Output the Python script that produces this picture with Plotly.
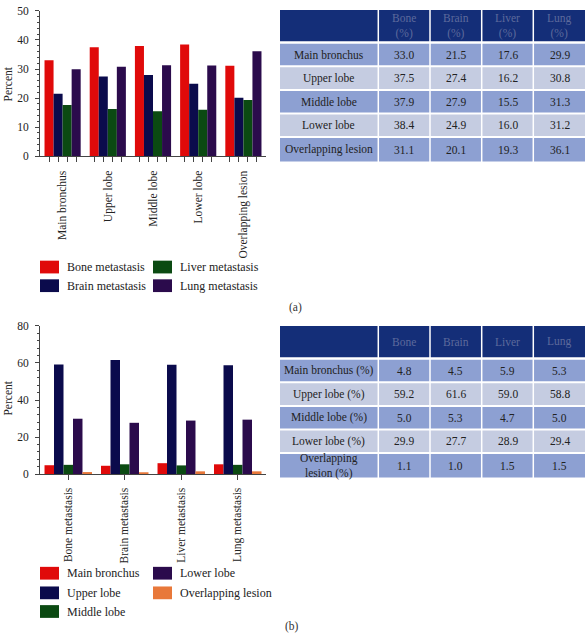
import plotly.graph_objects as go

# ---------------- data ----------------
locations = ["Main bronchus", "Upper lobe", "Middle lobe", "Lower lobe", "Overlapping lesion"]
met_types = ["Bone metastasis", "Brain metastasis", "Liver metastasis", "Lung metastasis"]
bone_pct = [33.0, 37.5, 37.9, 38.4, 31.1]
brain_pct = [21.5, 27.4, 27.9, 24.9, 20.1]
liver_pct = [17.6, 16.2, 15.5, 16.0, 19.3]
lung_pct = [29.9, 30.8, 31.3, 31.2, 36.1]

met_short = ["Bone", "Brain", "Liver", "Lung"]
main_bronchus_pct = [4.8, 4.5, 5.9, 5.3]
upper_lobe_pct = [59.2, 61.6, 59.0, 58.8]
middle_lobe_pct = [5.0, 5.3, 4.7, 5.0]
lower_lobe_pct = [29.9, 27.7, 28.9, 29.4]
overlap_pct = [1.1, 1.0, 1.5, 1.5]

top_table_header = ["", "Bone<br>(%)", "Brain<br>(%)", "Liver<br>(%)", "Lung<br>(%)"]
bottom_table_header = ["", "Bone", "Brain", "Liver", "Lung"]
bottom_row_labels = ["Main bronchus (%)", "Upper lobe (%)", "Middle lobe (%)",
                     "Lower lobe (%)", "Overlapping<br>lesion (%)"]

# ---------------- style ----------------
W, H = 585, 644
FONT = "Liberation Serif"
FS = 11.5
RED, NAVY, GREEN, PURPLE, ORANGE = "#e00a0a", "#0b0b4c", "#0b4a12", "#2b0b4c", "#e8783a"
top_colors = [RED, NAVY, GREEN, PURPLE]
bot_colors = [RED, NAVY, GREEN, PURPLE, ORANGE]
AX = "#444444"
TXT = "#222222"
HEAD_BG, ODD_BG, EVEN_BG = "#142e78", "#8da0d2", "#c5cce1"
HEAD_TXT = "#5d6a9c"


def fx(p):
    return p / W


def fy(p):
    return 1 - p / H


fig = go.Figure()

# ---------------- top chart ----------------
top_series = [bone_pct, brain_pct, liver_pct, lung_pct]
gap_top = 0.2
n_top = len(top_series)
for name, vals, col in zip(met_types, top_series, top_colors):
    fig.add_trace(go.Bar(x=list(range(len(locations))), y=vals, name=name,
                         marker=dict(color=col, line=dict(width=0)),
                         xaxis="x", yaxis="y", showlegend=False))
bw_top = (1 - gap_top) / n_top
top_minor = [i - (1 - gap_top) / 2 + bw_top * (k + 0.5)
             for i in range(len(locations)) for k in range(n_top)]

# ---------------- bottom chart ----------------
bot_series = [main_bronchus_pct, upper_lobe_pct, middle_lobe_pct, lower_lobe_pct, overlap_pct]
bot_names = ["Main bronchus", "Upper lobe", "Middle lobe", "Lower lobe", "Overlapping lesion"]
gap_bot = 0.16
n_bot = len(bot_series)
bw_bot = (1 - gap_bot) / n_bot
for k, (name, vals, col) in enumerate(zip(bot_names, bot_series, bot_colors)):
    fig.add_trace(go.Bar(x=list(range(len(met_types))), y=vals, name=name,
                         marker=dict(color=col, line=dict(width=0)),
                         width=bw_bot, offset=-(1 - gap_bot) / 2 + k * bw_bot,
                         xaxis="x2", yaxis="y2", showlegend=False))

axis_common = dict(showline=True, linecolor=AX, linewidth=1, showgrid=False, zeroline=False,
                   tickfont=dict(family=FONT, size=FS, color=TXT), ticks="outside",
                   fixedrange=True)

fig.update_layout(
    width=W, height=H, margin=dict(l=0, r=0, t=0, b=0),
    paper_bgcolor="white", plot_bgcolor="white",
    barmode="group", bargap=gap_top, bargroupgap=0,
    font=dict(family=FONT, size=FS, color=TXT),
    showlegend=False,
    xaxis=dict(domain=[fx(40), fx(266)], anchor="y", range=[-0.5, len(locations) - 0.5],
               tickmode="array", tickvals=list(range(len(locations))), ticktext=locations,
               tickangle=-90, ticklen=5, tickcolor="rgba(0,0,0,0)", ticklabelstandoff=4,
               minor=dict(tickmode="array", tickvals=top_minor, ticks="outside",
                          ticklen=5, tickcolor=AX, showgrid=False),
               **axis_common),
    yaxis=dict(domain=[fy(153), fy(5)], anchor="x", range=[0, 50], dtick=10, ticklen=4,
               ticklabelstandoff=4, tickcolor=AX,
               minor=dict(dtick=2, ticks="outside", ticklen=2, tickcolor=AX, showgrid=False),
               **axis_common),
    xaxis2=dict(domain=[fx(40), fx(266)], anchor="y2", range=[-0.5, len(met_types) - 0.5],
                tickmode="array", tickvals=list(range(len(met_types))), ticktext=met_types,
                tickangle=-90, ticklen=5, ticklabelstandoff=3, tickcolor=AX, **axis_common),
    yaxis2=dict(domain=[fy(477), fy(326)], anchor="x2", range=[0, 80], dtick=20, ticklen=4,
                ticklabelstandoff=4, tickcolor=AX,
                minor=dict(dtick=4, ticks="outside", ticklen=2, tickcolor=AX, showgrid=False),
                **axis_common),
)

annotations = []
shapes = []

# axis titles
for yc in (80, 400):
    annotations.append(dict(text="Percent", x=fx(8), y=fy(yc), xref="paper", yref="paper",
                            xanchor="center", yanchor="middle",
                            textangle=-90, showarrow=False,
                            font=dict(family=FONT, size=FS, color=TXT)))


# ---------------- manual legends ----------------
def legend(items, colors, col_x, row_y):
    for idx, (name, col) in enumerate(zip(items, colors)):
        cx, cy = col_x[idx][0], row_y[idx]
        shapes.append(dict(type="rect", xref="paper", yref="paper",
                           x0=fx(cx), x1=fx(cx + 19), y0=fy(cy - 6.5), y1=fy(cy + 6.5),
                           fillcolor=col, line=dict(width=0)))
        annotations.append(dict(text=name, x=fx(col_x[idx][1]), y=fy(cy), xref="paper",
                                yref="paper", xanchor="left", yanchor="middle", showarrow=False,
                                font=dict(family=FONT, size=12, color=TXT)))


c1, c2 = (40, 65), (153, 178)
legend(met_types, top_colors, [c1, c1, c2, c2], [266, 285, 266, 285])
legend(bot_names, bot_colors, [c1, c1, c1, c2, c2], [578, 598, 617, 578, 598])


# ---------------- tables ----------------
col_edges = [280, 378.3, 430, 481.7, 533.3, 585]


def table(y0, header, row_labels, columns):
    header_h, row_h, pitch, first_gap = 32, 22, 24, 2.5
    nrows = len(row_labels)
    rows = [(y0, y0 + header_h, HEAD_BG, header, HEAD_TXT)]
    for r in range(nrows):
        top = y0 + header_h + first_gap + r * pitch
        bot = top + row_h + (2 if r == nrows - 1 else 0)
        cells = [row_labels[r]] + [f"{columns[c][r]:.1f}" for c in range(len(columns))]
        rows.append((top, bot, ODD_BG if r % 2 == 0 else EVEN_BG, cells, TXT))
    for top, bot, bg, cells, tcol in rows:
        for j in range(len(col_edges) - 1):
            x0 = col_edges[j] + (0.75 if j > 0 else 0)
            x1 = col_edges[j + 1] - (0.75 if j < len(col_edges) - 2 else 0)
            shapes.append(dict(type="rect", xref="paper", yref="paper",
                               x0=fx(x0), x1=fx(x1), y0=fy(bot), y1=fy(top),
                               fillcolor=bg, line=dict(width=0)))
            if cells[j]:
                annotations.append(dict(text=cells[j], x=fx((x0 + x1) / 2), y=fy((top + bot) / 2),
                                        xref="paper", yref="paper", showarrow=False,
                                        xanchor="center", yanchor="middle",
                                        font=dict(family=FONT, size=FS, color=tcol)))


table(4, top_table_header, locations, top_series)
bottom_columns = [list(col) for col in zip(*bot_series)]
table(326, bottom_table_header, bottom_row_labels, bottom_columns)

for lab, xc, yc in (("(a)", 295, 307), ("(b)", 292, 632)):
    annotations.append(dict(text=lab, x=fx(xc), y=fy(yc), xref="paper", yref="paper",
                            xanchor="center", yanchor="middle",
                            showarrow=False, font=dict(family=FONT, size=FS, color="#333333")))

fig.update_layout(annotations=annotations, shapes=shapes)
fig.write_html("out.html", config={"displayModeBar": False},
               post_script="document.body.style.margin='0';document.body.style.overflow='hidden';")
